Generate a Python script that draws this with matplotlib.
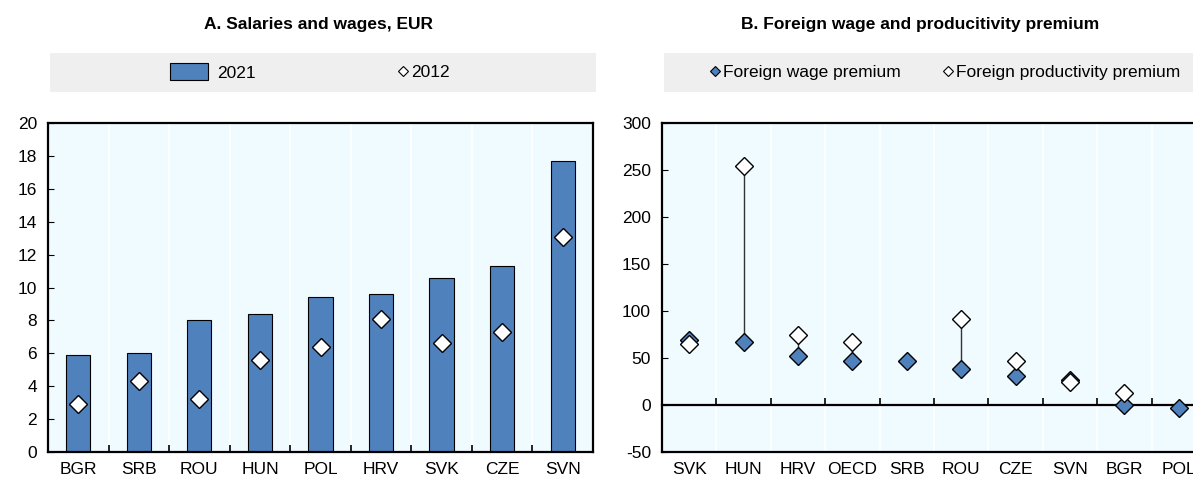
import matplotlib
matplotlib.use("Agg")
import matplotlib.pyplot as plt
import numpy as np
from matplotlib.lines import Line2D
from matplotlib.patches import Patch, Rectangle

plt.rcParams["font.family"] = ["Liberation Sans Narrow", "Liberation Sans", "DejaVu Sans"]
plt.rcParams["axes.unicode_minus"] = False

# Panel A
countries_a = ["BGR", "SRB", "ROU", "HUN", "POL", "HRV", "SVK", "CZE", "SVN"]
wages_2021 = [5.9, 6.0, 8.0, 8.4, 9.4, 9.6, 10.6, 11.3, 17.7]
wages_2012 = [2.9, 4.3, 3.2, 5.6, 6.4, 8.1, 6.6, 7.3, 13.1]

# Panel B
countries_b = ["SVK", "HUN", "HRV", "OECD", "SRB", "ROU", "CZE", "SVN", "BGR", "POL"]
wage_premium = [69, 67, 52, 47, 47, 38, 31, 27, 0, -3]
prod_premium = [65, 254, 74, 67, np.nan, 91, 47, 25, 13, np.nan]

BLUE = "#4f81bd"
BG = "#f0fbff"
BOX = "#efefef"
W, H = 1193, 478
FS = 12.5


def fx(px):
    return px / W


def fy(py):
    return 1 - py / H


def style_cats(ax, n):
    ax.set_facecolor(BG)
    ax.set_xlim(0, n)
    ax.set_xticks(np.arange(n) + 0.5)
    ax.tick_params(axis="x", length=0, labelsize=FS, pad=7)
    ax.tick_params(axis="y", direction="in", length=4, labelsize=FS, pad=8)
    for b in range(1, n):
        ax.axvline(b, color="white", lw=1.2, zorder=0)
    for s in ax.spines.values():
        s.set_linewidth(1.6)


fig = plt.figure(figsize=(W / 100, H / 100), dpi=100)

# ---- Panel A
ax1 = fig.add_axes([fx(48), fy(452), fx(593 - 48), (452 - 123) / H])
style_cats(ax1, len(countries_a))
xa = np.arange(len(countries_a)) + 0.5
ax1.bar(xa, wages_2021, width=0.4, color=BLUE, edgecolor="black", lw=0.8, zorder=2)
ax1.plot(xa, wages_2012, ls="none", marker="D", ms=9, mfc="white", mec="black", mew=1, zorder=3)
ax1.set_xticklabels(countries_a)
ax1.set_ylim(0, 20)
ax1.set_yticks(range(0, 21, 2))
ax1.set_xticks(np.arange(1, len(countries_a)), minor=True)
ax1.tick_params(axis="x", which="minor", direction="in", length=5, width=1.2)

# ---- Panel B
ax2 = fig.add_axes([fx(662), fy(452), fx(1206 - 662), (452 - 123) / H])
style_cats(ax2, len(countries_b))
xb = np.arange(len(countries_b)) + 0.5
ax2.set_ylim(-50, 300)
ax2.set_yticks(range(-50, 301, 50))
ax2.set_xticklabels(countries_b)
ax2.spines["right"].set_visible(False)
for x, lo, hi in zip(xb, wage_premium, prod_premium):
    if not np.isnan(hi):
        ax2.plot([x, x], [lo, hi], color="#333333", lw=1, zorder=2)
ax2.plot(xb, wage_premium, ls="none", marker="D", ms=9, mfc=BLUE, mec="black", mew=1, zorder=3)
ax2.plot(xb, prod_premium, ls="none", marker="D", ms=9, mfc="white", mec="black", mew=1, zorder=4)
ylo, yhi = ax2.get_ylim()
zero = ax2.secondary_xaxis((0 - ylo) / (yhi - ylo))
zero.set_xticks(np.arange(1, len(countries_b)))
zero.tick_params(direction="in", length=5, width=1.2, labelbottom=False)
zero.spines["bottom"].set_linewidth(1.6)

# ---- titles
fig.text(fx(318), fy(24), "A. Salaries and wages, EUR", ha="center", va="center",
         fontsize=12.5, fontweight="bold")
fig.text(fx(920), fy(24), "B. Foreign wage and producitivity premium", ha="center", va="center",
         fontsize=12.5, fontweight="bold")

# ---- legend boxes
for x0, x1 in [(50, 596), (664, 1193)]:
    fig.patches.append(Rectangle((fx(x0), fy(92)), fx(x1 - x0), (92 - 53) / H,
                                 transform=fig.transFigure, facecolor=BOX, edgecolor="none"))

kw = dict(frameon=False, fontsize=FS, borderpad=0, borderaxespad=0, loc="center left")
fig.legend([Patch(facecolor=BLUE, edgecolor="black", lw=0.8)], ["2021"],
           bbox_to_anchor=(fx(170), fy(72)), handlelength=2.2, handleheight=1.1,
           handletextpad=0.5, **kw)
fig.legend([Line2D([], [], ls="none", marker="D", ms=5.5, mfc="white", mec="black", mew=0.8)],
           ["2012"], bbox_to_anchor=(fx(399), fy(72)), handlelength=0.5,
           handletextpad=0.2, **kw)
fig.legend([Line2D([], [], ls="none", marker="D", ms=5.5, mfc=BLUE, mec="black", mew=0.8)],
           ["Foreign wage premium"], bbox_to_anchor=(fx(711), fy(72)), handlelength=0.5,
           handletextpad=0.2, **kw)
fig.legend([Line2D([], [], ls="none", marker="D", ms=5.5, mfc="white", mec="black", mew=0.8)],
           ["Foreign productivity premium"], bbox_to_anchor=(fx(944), fy(72)),
           handlelength=0.5, handletextpad=0.2, **kw)

fig.savefig("out.png", dpi=100)
